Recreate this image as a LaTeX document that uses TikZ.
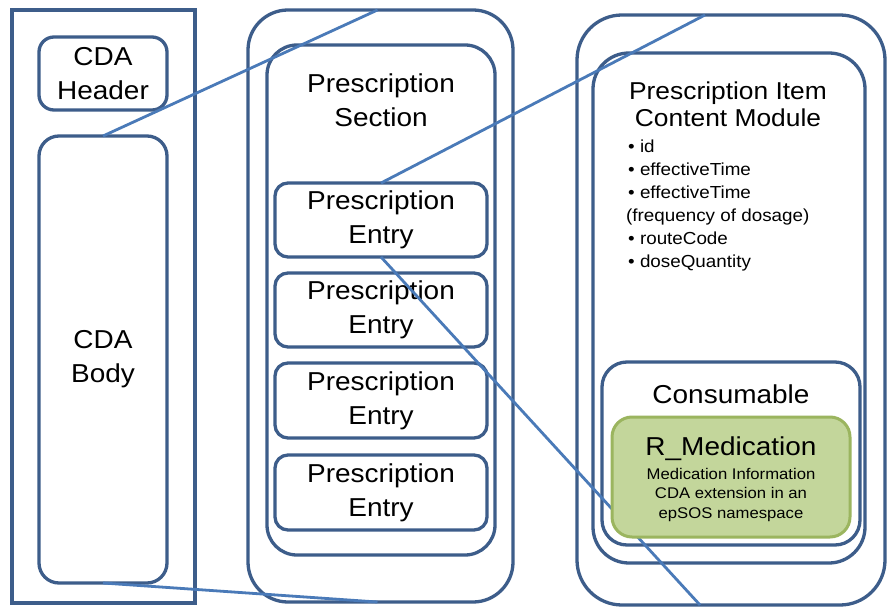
\documentclass[tikz,border=0pt]{standalone}
\usepackage{fontspec}
\setmainfont{Liberation Sans}[FakeStretch=1.08]
\definecolor{boxc}{HTML}{3D5D8A}
\definecolor{linec}{HTML}{4A7AB8}
\definecolor{greenf}{HTML}{C3D69B}
\definecolor{greend}{HTML}{9BB55F}
\begin{document}
\begin{tikzpicture}[x=1bp,y=-1bp,
  box/.style={draw=boxc, line width=3.3bp, inner sep=0pt, outer sep=0pt},
  conn/.style={draw=linec, line width=2.8bp},
  big/.style={font=\fontsize{26}{34}\selectfont, align=center, inner sep=0pt},
  mid/.style={font=\fontsize{24.5}{27}\selectfont, align=center, inner sep=0pt},
  bul/.style={font=\fontsize{17.5}{22}\selectfont, anchor=base west, inner sep=0pt},
  small/.style={font=\fontsize{15.5}{20}\selectfont, align=center, inner sep=0pt}]
\useasboundingbox (0,0) rectangle (887,608);
\fill[white] (0,0) rectangle (887,608);
% left panel
\node[box, minimum width=183bp, minimum height=593bp] (lout) at (103.5,306.5) {};
\node[box, rounded corners=15bp, minimum width=128bp, minimum height=73bp] (hdr) at (103,73.5) {};
\node[box, rounded corners=20bp, minimum width=128bp, minimum height=447bp] (body) at (103,359.5) {};
% middle panel
\node[box, rounded corners=40bp, minimum width=265bp, minimum height=592bp] (mout) at (380.5,306) {};
\node[box, rounded corners=30bp, minimum width=228bp, minimum height=510bp] (sec) at (381,300) {};
\node[box, rounded corners=13bp, minimum width=212bp, minimum height=74bp] (e1) at (381,220) {};
\node[box, rounded corners=13bp, minimum width=212bp, minimum height=74bp] (e2) at (381,310) {};
\node[box, rounded corners=13bp, minimum width=212bp, minimum height=75bp] (e3) at (381,400.5) {};
\node[box, rounded corners=13bp, minimum width=212bp, minimum height=75bp] (e4) at (381,492.5) {};
% right panel
\node[box, rounded corners=45bp, minimum width=308bp, minimum height=590bp] (rout) at (731,310) {};
\node[box, rounded corners=36bp, minimum width=272bp, minimum height=510bp] (mod) at (729,308) {};
\node[box, rounded corners=25bp, minimum width=258bp, minimum height=183bp] (cons) at (731,453.5) {};
% texts
\node[big] (thdr) at (hdr.center) {CDA\\Header};
\node[big] (tbody) at (body.center) {CDA\\Body};
\node[big] (tsec) at (381,100) {Prescription\\Section};
\node[big] (te1) at (e1.center) {Prescription\\Entry};
\node[big] (te2) at (e2.center) {Prescription\\Entry};
\node[big] (te3) at (e3.center) {Prescription\\Entry};
\node[big] (te4) at (e4.center) {Prescription\\Entry};
\node[mid] (tmod) at (728,104) {Prescription Item\\Content Module};
\node[bul] (b1) at (628,153) {• id};
\node[bul] (b2) at (628,176) {• effectiveTime};
\node[bul] (b3) at (628,199) {• effectiveTime};
\node[bul] (b4) at (626,222) {(frequency of dosage)};
\node[bul] (b5) at (628,245) {• routeCode};
\node[bul] (b6) at (628,267) {• doseQuantity};
\node[big, anchor=base] (tcons) at (731,403) {Consumable};
% connectors
\draw[conn] (body.north) -- ([xshift=-3bp]mout.north);
\draw[conn] (body.south) -- ([xshift=-3bp]mout.south);
\draw[conn] (e1.north) -- ([xshift=-26bp]rout.north);
\draw[conn] (e1.south) -- ([xshift=-31bp]rout.south);
% green box on top
\node[draw=greend, fill=greenf, line width=3bp, rounded corners=20bp, inner sep=0pt, outer sep=0pt,
      minimum width=238bp, minimum height=120bp] (med) at (731,477) {};
\node[big, anchor=base] (tmed) at (731,455) {R\_Medication};
\node[small] (tmedd) at (731,495) {Medication Information\\CDA extension in an\\epSOS namespace};
\end{tikzpicture}
\end{document}
